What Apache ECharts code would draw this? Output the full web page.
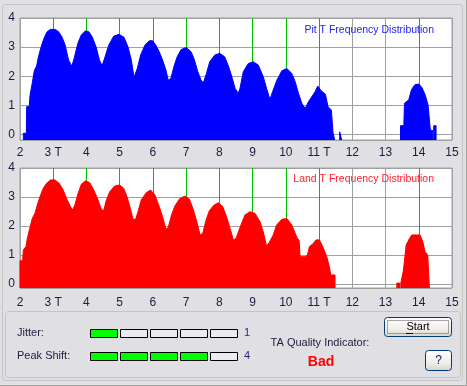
<!DOCTYPE html>
<html><head><meta charset="utf-8">
<script src="https://cdn.jsdelivr.net/npm/echarts/dist/echarts.min.js"></script>
<style>html,body{margin:0;padding:0;background:#e0dfe3;}#c{width:467px;height:386px;}</style>
</head><body><div id="c"></div><script>
// ---- data ----
const xTicks = [2,3,4,5,6,7,8,9,10,11,12,13,14,15];
const xTickLabels = ['2','3 T','4','5','6','7','8','9','10','11 T','12','13','14','15'];
const greenMarks = [3,4,5,6,7,8,9,10,11,14];
const yTicks = [0,1,2,3,4];
const pitTitle = 'Pit T Frequency Distribution';
const landTitle = 'Land T Frequency Distribution';
const pitGroup1 = [[2.10,0.05],[2.19,0.05],[2.20,0.96],[2.28,0.98],[2.30,1.34],[2.35,1.40],[2.37,1.78],[2.43,2.19],[2.50,2.36],[2.55,2.65],[2.63,2.99],[2.71,3.27],[2.81,3.52],[2.91,3.61],[3.06,3.61],[3.16,3.53],[3.26,3.36],[3.36,3.07],[3.46,2.56],[3.56,2.35],[3.63,2.62],[3.74,3.13],[3.84,3.41],[3.97,3.56],[4.07,3.53],[4.17,3.36],[4.29,3.01],[4.39,2.56],[4.47,2.36],[4.56,2.67],[4.67,3.07],[4.82,3.38],[4.98,3.44],[5.13,3.34],[5.25,3.01],[5.35,2.56],[5.43,1.97],[5.53,2.27],[5.63,2.73],[5.76,3.07],[5.89,3.22],[5.99,3.22],[6.09,3.07],[6.19,2.84],[6.29,2.56],[6.39,2.22],[6.46,1.87],[6.54,1.93],[6.63,2.33],[6.73,2.67],[6.85,2.92],[7.00,2.99],[7.15,2.84],[7.25,2.56],[7.35,2.16],[7.45,1.87],[7.52,1.78],[7.61,2.10],[7.71,2.50],[7.86,2.73],[8.01,2.79],[8.16,2.67],[8.28,2.33],[8.39,1.93],[8.47,1.59],[8.57,1.42],[8.62,1.59],[8.72,2.16],[8.87,2.44],[9.02,2.50],[9.17,2.39],[9.32,1.99],[9.42,1.59],[9.52,1.21],[9.60,1.47],[9.73,1.87],[9.88,2.19],[10.03,2.27],[10.18,2.10],[10.28,1.82],[10.38,1.42],[10.48,1.08],[10.58,0.90],[10.61,0.87],[10.68,1.13],[10.78,1.30],[10.88,1.47],[10.96,1.67],[11.06,1.51],[11.19,1.39],[11.27,0.96],[11.37,0.85],[11.40,0.85],[11.42,0.07],[11.47,0.07]];
const pitGroup2 = [[11.62,0.10],[11.68,0.10]];
const pitGroup3 = [[13.45,0.31],[13.55,0.31],[13.57,1.08],[13.70,1.20],[13.78,1.54],[13.88,1.71],[14.00,1.74],[14.10,1.61],[14.20,1.34],[14.28,1.02],[14.33,1.02],[14.35,0.15],[14.42,0.15]];
const pitGroup4 = [[14.45,0.31],[14.52,0.31]];
const landGroup1 = [[2.00,0.80],[2.08,0.80],[2.10,1.17],[2.18,1.29],[2.22,1.57],[2.30,1.95],[2.37,2.26],[2.45,2.44],[2.52,2.72],[2.60,3.01],[2.70,3.30],[2.80,3.47],[2.92,3.59],[3.05,3.59],[3.18,3.47],[3.30,3.24],[3.42,2.90],[3.52,2.67],[3.58,2.55],[3.65,2.72],[3.75,3.13],[3.85,3.45],[3.98,3.56],[4.10,3.49],[4.22,3.24],[4.35,2.90],[4.45,2.57],[4.52,2.53],[4.60,2.90],[4.70,3.18],[4.85,3.38],[5.00,3.41],[5.12,3.30],[5.22,3.01],[5.32,2.61],[5.40,2.23],[5.48,2.23],[5.55,2.49],[5.65,2.90],[5.80,3.15],[5.93,3.24],[6.06,3.07],[6.19,2.67],[6.29,2.32],[6.39,1.89],[6.46,1.95],[6.56,2.38],[6.66,2.69],[6.81,2.95],[6.97,3.03],[7.10,2.92],[7.22,2.55],[7.32,2.15],[7.42,1.69],[7.50,1.75],[7.60,2.21],[7.70,2.53],[7.84,2.72],[7.97,2.80],[8.10,2.67],[8.22,2.30],[8.32,1.92],[8.42,1.52],[8.50,1.57],[8.62,1.95],[8.77,2.38],[8.92,2.49],[9.07,2.44],[9.22,2.15],[9.32,1.80],[9.42,1.31],[9.50,1.43],[9.62,1.69],[9.72,2.03],[9.88,2.23],[10.03,2.26],[10.18,2.03],[10.28,1.75],[10.35,1.57],[10.40,1.50],[10.43,0.94],[10.58,0.94],[10.65,1.00],[10.71,1.29],[10.81,1.38],[10.91,1.52],[11.01,1.52],[11.11,1.29],[11.23,0.94],[11.31,0.60],[11.35,0.31],[11.48,0.31]];
const landGroup2 = [[13.34,0.03],[13.42,0.03]];
const landGroup3 = [[13.46,0.03],[13.50,0.03],[13.54,0.48],[13.62,1.34],[13.72,1.57],[13.79,1.69],[13.92,1.69],[14.04,1.69],[14.12,1.46],[14.19,1.11],[14.27,1.00],[14.32,1.00]];
const jitterLabel = 'Jitter:';
const peakShiftLabel = 'Peak Shift:';
const jitterLevel = 1;
const peakShiftLevel = 4;
const levelCount = 5;
const qualityLabel = 'TA Quality Indicator:';
const qualityValue = 'Bad';

// ---- styling ----
const BG = '#e0dfe3', GRAY = '#a0a0a0', GREEN = '#00c000', TXT = '#1c1c3c';
const FONT = '"Liberation Sans", Arial, sans-serif';
const topMin = -0.18, botMin = -0.14;

function build(groups, base) {
  const out = [];
  groups.forEach((g, i) => {
    if (i > 0) out.push([g[0][0], '-']);
    out.push([g[0][0], base]);
    g.forEach(p => out.push(p));
    out.push([g[g.length - 1][0], base]);
  });
  return out;
}

const splitColors = xTicks.map(t => greenMarks.includes(t) ? GREEN : GRAY);

function xAxis(gi, margin) {
  return {
    type: 'value', gridIndex: gi, min: xTicks[0], max: xTicks[xTicks.length - 1], interval: 1,
    axisLine: {show: false}, axisTick: {show: false},
    axisLabel: {margin: margin, color: TXT, fontFamily: FONT, fontSize: 12,
      formatter: v => { const i = xTicks.indexOf(v); return i >= 0 ? xTickLabels[i] : ''; }},
    splitLine: {show: true, lineStyle: {color: splitColors, width: 1}}
  };
}
function yAxis(gi, min) {
  return {
    type: 'value', gridIndex: gi, min: min, max: 4, splitNumber: 4, minInterval: 1, maxInterval: 1,
    axisLine: {show: false}, axisTick: {show: false},
    axisLabel: {margin: 5, color: TXT, fontFamily: FONT, fontSize: 12,
      formatter: v => yTicks.includes(v) ? String(v) : ''},
    splitLine: {show: true, lineStyle: {color: GRAY, width: 1}}
  };
}
function areaSeries(gi, data, color) {
  return {
    type: 'line', xAxisIndex: gi, yAxisIndex: gi, data: data, symbol: 'none', silent: true,
    connectNulls: false, lineStyle: {width: 1, color: color}, itemStyle: {color: color},
    areaStyle: {color: color, opacity: 1, origin: 'start'}, animation: false, z: 3
  };
}

const graphics = [];
// outer frames
graphics.push({type: 'rect', shape: {x: 2.5, y: 4.5, width: 460, height: 376, r: 3}, style: {fill: 'none', stroke: '#c4c4c4', lineWidth: 1}, z: -10});
graphics.push({type: 'rect', shape: {x: 5.5, y: 311.5, width: 455, height: 66, r: 3}, style: {fill: 'none', stroke: '#c4c4c4', lineWidth: 1}, z: -10});
graphics.push({type: 'line', shape: {x1: 466.5, y1: 0, x2: 466.5, y2: 386}, style: {stroke: '#a0a0a0', lineWidth: 1}});
graphics.push({type: 'line', shape: {x1: 0, y1: 385.5, x2: 467, y2: 385.5}, style: {stroke: '#a0a0a0', lineWidth: 1}});
// titles
graphics.push({type: 'text', z: 10, style: {text: pitTitle, x: 434, y: 30, align: 'right', verticalAlign: 'middle', font: '10.5px ' + FONT, fill: '#2020ff'}});
graphics.push({type: 'text', z: 10, style: {text: landTitle, x: 434, y: 179, align: 'right', verticalAlign: 'middle', font: '10.5px ' + FONT, fill: '#ff2030'}});
// indicators
function levelRow(label, level, y) {
  graphics.push({type: 'text', style: {text: label, x: 17, y: y + 4, align: 'left', verticalAlign: 'middle', font: '11px ' + FONT, fill: TXT}});
  for (let i = 0; i < levelCount; i++) {
    graphics.push({type: 'rect', shape: {x: 90.5 + i * 30, y: y + 0.5, width: 27, height: 8},
      style: {fill: i < level ? '#00ff00' : '#ececec', stroke: '#000', lineWidth: 1}});
  }
  graphics.push({type: 'text', style: {text: String(level), x: 247, y: y + 4, align: 'center', verticalAlign: 'middle', font: '11px ' + FONT, fill: '#302080'}});
}
levelRow(jitterLabel, jitterLevel, 329);
levelRow(peakShiftLabel, peakShiftLevel, 352);
graphics.push({type: 'text', style: {text: qualityLabel, x: 320, y: 343, align: 'center', verticalAlign: 'middle', font: '11px ' + FONT, fill: TXT}});
graphics.push({type: 'text', style: {text: qualityValue, x: 321, y: 362, align: 'center', verticalAlign: 'middle', font: 'bold 14px ' + FONT, fill: '#ff0000'}});
// buttons
const btnFill = new echarts.graphic.LinearGradient(0, 0, 0, 1, [{offset: 0, color: '#ffffff'}, {offset: 0.6, color: '#f0efea'}, {offset: 1, color: '#d6d2c8'}]);
graphics.push({type: 'rect', shape: {x: 384.5, y: 317.5, width: 67, height: 19, r: 3}, style: {fill: btnFill, stroke: '#003c74', lineWidth: 1}});
graphics.push({type: 'rect', shape: {x: 387.5, y: 320.5, width: 61, height: 13}, style: {fill: 'none', stroke: '#555', lineWidth: 1, lineDash: [1, 1]}});
graphics.push({type: 'text', style: {text: 'Start', x: 418, y: 327, align: 'center', verticalAlign: 'middle', font: '11px ' + FONT, fill: '#000'}});
graphics.push({type: 'line', shape: {x1: 406, y1: 333.5, x2: 413, y2: 333.5}, style: {stroke: '#000', lineWidth: 1}});
graphics.push({type: 'rect', shape: {x: 425.5, y: 350.5, width: 26, height: 20, r: 3}, style: {fill: btnFill, stroke: '#003c74', lineWidth: 1}});
graphics.push({type: 'text', style: {text: '?', x: 438.5, y: 361, align: 'center', verticalAlign: 'middle', font: '12px ' + FONT, fill: '#1c1c50'}});

const chart = echarts.init(document.getElementById('c'), null, {renderer: 'canvas'});
chart.setOption({
  backgroundColor: BG,
  animation: false,
  grid: [
    {left: 20, top: 18, width: 432, height: 122, show: true, backgroundColor: '#ffffff', borderColor: GRAY, borderWidth: 1},
    {left: 20, top: 168, width: 432, height: 120, show: true, backgroundColor: '#ffffff', borderColor: GRAY, borderWidth: 1}
  ],
  xAxis: [xAxis(0, 7), xAxis(1, 9)],
  yAxis: [yAxis(0, topMin), yAxis(1, botMin)],
  series: [
    areaSeries(0, build([pitGroup1, pitGroup2, pitGroup3, pitGroup4], topMin), '#0000ff'),
    areaSeries(1, build([landGroup1, landGroup2, landGroup3], botMin), '#ff0000')
  ],
  graphic: graphics
});
</script></body></html>
